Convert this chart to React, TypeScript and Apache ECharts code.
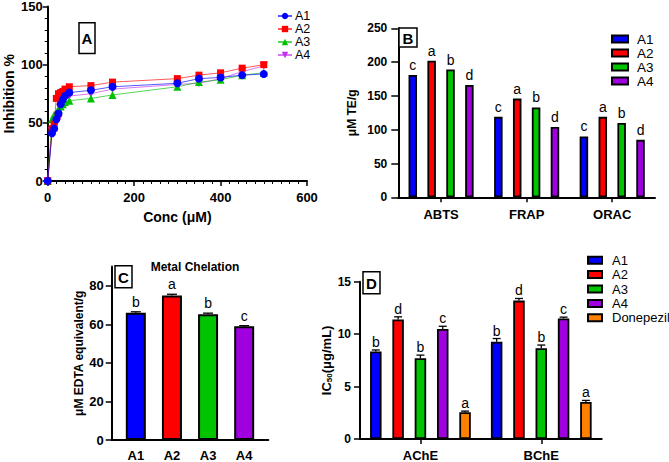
import React, { useEffect, useRef } from 'react';
import * as echarts from 'echarts';

// ---------- Panel A: inhibition vs concentration ----------
const concA = [0, 10, 15, 20, 25, 30, 35, 40, 50, 100, 150, 300, 350, 400, 450, 500];
const inhA1 = [0, 41, 45, 53, 58, 66, 70, 73, 76, 78, 81, 84, 88, 89, 91, 92];
const inhA2 = [0, 45, 49, 71, 75, 76, 77, 79, 81, 82, 85, 88, 91, 93, 97, 100];
const inhA3 = [0, 53, 57, 58, 62, 64, 66, 68, 69, 71, 74, 81, 85, 87, 91, 93];
const inhA4 = [0, 43, 47, 50, 53, 63, 68, 71, 73, 75, 79, 83, 84, 88, 94, 99];
const namesA = ['A1', 'A2', 'A3', 'A4'];

// ---------- Panel B: antioxidant assays ----------
const bCategories = ['ABTS', 'FRAP', 'ORAC'];
const bA1 = [181, 119, 90];
const bA2 = [202, 146, 119];
const bA3 = [189, 133, 110];
const bA4 = [166, 104, 85];
const bLetters = ['c', 'a', 'b', 'd'];

// ---------- Panel C: metal chelation ----------
const cCategories = ['A1', 'A2', 'A3', 'A4'];
const cValues = [66, 75, 65.2, 59];
const cErrors = [0.5, 0.6, 0.6, 0.3];
const cLetters = ['b', 'a', 'b', 'c'];

// ---------- Panel D: IC50 ----------
const dCategories = ['AChE', 'BChE'];
const dNames = ['A1', 'A2', 'A3', 'A4', 'Donepezil'];
const dA1 = [8.34, 9.28];
const dA2 = [11.4, 13.2];
const dA3 = [7.7, 8.66];
const dA4 = [10.5, 11.5];
const dDon = [2.56, 3.53];
const dErrA1 = [0.15, 0.3];
const dErrA2 = [0.25, 0.2];
const dErrA3 = [0.3, 0.3];
const dErrA4 = [0.25, 0.12];
const dErrDon = [0.1, 0.15];
const dLetters = [['b', 'b'], ['d', 'd'], ['b', 'b'], ['c', 'c'], ['a', 'a']];

const FONT = '"Liberation Sans", Arial, Helvetica, sans-serif';
const BLUE = '#0000ff';
const RED = '#ff0000';
const GREEN = '#00c400';
const PURPLE = '#a000e0';
const ORANGE = '#ff8000';
const barColors = [BLUE, RED, GREEN, PURPLE, ORANGE];
const lineColors = ['#0000ff', '#ff0000', '#00c000', '#c030f0'];

const D_STEP = 11.5 * 1.94;

function axis(opts: any) {
  const {
    labelSize = 12, margin = 8, tickLen = 5, tickShow = true, lineWidth = 2, extraLabel = {}, extraTick = {}, ...rest
  } = opts;
  return {
    splitLine: { show: false },
    axisLine: { show: true, onZero: false, lineStyle: { color: '#000', width: lineWidth } },
    axisTick: { show: tickShow, inside: false, length: tickLen, lineStyle: { color: '#000', width: 1.5 }, ...extraTick },
    axisLabel: { color: '#000', fontSize: labelSize, fontWeight: 'bold', margin, fontFamily: FONT, ...extraLabel },
    nameTextStyle: { color: '#000', fontSize: 12, fontWeight: 'bold', fontFamily: FONT },
    ...rest,
  };
}

function boxLabel(letter: string, x: number, y: number, w: number, h: number) {
  return [
    { type: 'rect', shape: { x, y, width: w, height: h }, style: { fill: '#fff', stroke: '#000', lineWidth: 1.5 }, z: 20 },
    {
      type: 'text', x: x + w / 2, y: y + h / 2 + 0.5, z: 21,
      style: { text: letter, textAlign: 'center', textVerticalAlign: 'middle', fontSize: 15, fontWeight: 'bold', fontFamily: FONT, fill: '#000' },
    },
  ];
}

export default function App() {
  const ref = useRef<HTMLDivElement>(null);
  useEffect(() => {
    if (!ref.current) return;
    const chart = echarts.init(ref.current, undefined, { renderer: 'svg' });

    const inhA = [inhA1, inhA2, inhA3, inhA4];
    const symbolsA = ['circle', 'rect', 'triangle', 'triangle'];
    const symbolSizesA = [8, 7, 8, 8];
    const rotA = [0, 0, 0, 180];
    const bSeries = [bA1, bA2, bA3, bA4];
    const dSeries = [dA1, dA2, dA3, dA4, dDon];
    const dErrs = [dErrA1, dErrA2, dErrA3, dErrA4, dErrDon];

    const option: any = {
      animation: false,
      backgroundColor: '#fff',
      textStyle: { fontFamily: FONT, color: '#000' },
      grid: [
        { left: 47.7, top: 5, width: 259.3, height: 176 },
        { left: 398.3, top: 28.3, width: 256.7, height: 169 },
        { left: 111.7, top: 266.5, width: 156.6, height: 175.8 },
        { left: 360, top: 281.7, width: 241.7, height: 160 },
      ],
      xAxis: [
        axis({
          type: 'value', gridIndex: 0, min: 0, max: 600, interval: 200,
          labelSize: 13, margin: 10, tickLen: 5,
          minorTick: { show: true, splitNumber: 10, length: 3, lineStyle: { color: '#000', width: 1 } },
          minorSplitLine: { show: false },
          name: 'Conc (μM)', nameLocation: 'middle', nameGap: 29,
          nameTextStyle: { color: '#000', fontSize: 14, fontWeight: 'bold', fontFamily: FONT },
        }),
        axis({
          type: 'category', gridIndex: 1, data: bCategories, boundaryGap: true,
          labelSize: 13, margin: 11, tickLen: 5, extraTick: { alignWithLabel: true },
        }),
        axis({
          type: 'value', gridIndex: 2, min: -0.668, max: 3.668,
          labelSize: 13, margin: 9, tickShow: false,
          extraLabel: { customValues: [0, 1, 2, 3], formatter: (v: number) => cCategories[Math.round(v)] },
        }),
        axis({
          type: 'category', gridIndex: 3, data: dCategories, boundaryGap: true,
          labelSize: 13, margin: 10, tickLen: 5, extraTick: { alignWithLabel: true },
        }),
      ],
      yAxis: [
        axis({
          type: 'value', gridIndex: 0, min: 0, max: 150, interval: 50,
          labelSize: 13, margin: 5, tickLen: 5,
          minorTick: { show: true, splitNumber: 5, length: 3, lineStyle: { color: '#000', width: 1 } },
          minorSplitLine: { show: false },
          name: 'Inhibition %', nameLocation: 'middle', nameGap: 32,
          nameTextStyle: { color: '#000', fontSize: 14, fontWeight: 'bold', fontFamily: FONT },
        }),
        axis({
          type: 'value', gridIndex: 1, min: 0, max: 250, interval: 50,
          labelSize: 12, margin: 11, tickLen: 7,
          name: 'μM TE/g', nameLocation: 'middle', nameGap: 40,
          nameTextStyle: { color: '#000', fontSize: 12, fontWeight: 'bold', fontFamily: FONT },
        }),
        axis({
          type: 'value', gridIndex: 2, min: 0, max: 90, interval: 20,
          labelSize: 13, margin: 8, tickLen: 6,
          extraLabel: { customValues: [0, 20, 40, 60, 80] },
          extraTick: { customValues: [0, 20, 40, 60, 80] },
          name: 'μM EDTA equivalent/g', nameLocation: 'middle', nameGap: 24,
          nameTextStyle: { color: '#000', fontSize: 12, fontWeight: 'bold', fontFamily: FONT },
        }),
        axis({
          type: 'value', gridIndex: 3, min: 0, max: 15, interval: 5,
          labelSize: 12, margin: 9, tickLen: 6,
          name: '{a|IC}{b|50}{a|(μg/mL)}', nameLocation: 'middle', nameGap: 27,
          nameTextStyle: {
            color: '#000', fontFamily: FONT,
            rich: {
              a: { fontSize: 13, fontWeight: 'bold', color: '#000', fontFamily: FONT },
              b: { fontSize: 8, fontWeight: 'bold', color: '#000', fontFamily: FONT, verticalAlign: 'bottom', padding: [5, 0, 0, 0] },
            },
          },
        }),
      ],
      legend: [
        {
          data: namesA, orient: 'vertical', left: 277, top: 9.5, padding: 0, itemGap: 0,
          itemWidth: 14, itemHeight: 8, selectedMode: false,
          textStyle: { fontSize: 12.5, lineHeight: 13, color: '#000', fontFamily: FONT, padding: [0, 0, 0, -2] },
        },
        {
          data: namesA.map((n) => 'B:' + n), orient: 'vertical', left: 611, top: 32, padding: 0, itemGap: 0,
          itemWidth: 16, itemHeight: 7, icon: 'rect', selectedMode: false,
          formatter: (n: string) => n.replace(/^[BD]:/, ''),
          textStyle: { fontSize: 13.5, lineHeight: 13.7, color: '#000', fontFamily: FONT, padding: [0, 0, 0, 4] },
        },
        {
          data: dNames.map((n) => 'D:' + n), orient: 'vertical', left: 587, top: 253, padding: 0, itemGap: 0,
          itemWidth: 14, itemHeight: 7, icon: 'rect', selectedMode: false,
          formatter: (n: string) => n.replace(/^[BD]:/, ''),
          textStyle: { fontSize: 13, lineHeight: 14.4, color: '#000', fontFamily: FONT, padding: [0, 0, 0, 5] },
        },
      ],
      graphic: [
        ...boxLabel('A', 79, 22.7, 16, 30.7),
        ...boxLabel('B', 399, 28, 18, 19),
        ...boxLabel('C', 115, 265.7, 17, 22),
        ...boxLabel('D', 363, 271.7, 17, 22),
        {
          type: 'text', x: 195, y: 266.7, z: 21,
          style: { text: 'Metal Chelation', textAlign: 'center', textVerticalAlign: 'middle', fontSize: 12, fontWeight: 'bold', fontFamily: FONT, fill: '#000' },
        },
      ],
      series: [
        ...inhA.map((vals, i) => ({
          type: 'line', name: namesA[i], xAxisIndex: 0, yAxisIndex: 0,
          data: concA.map((c, k) => [c, vals[k]]),
          symbol: symbolsA[i], symbolSize: symbolSizesA[i], symbolRotate: rotA[i],
          itemStyle: { color: lineColors[i] },
          lineStyle: { color: lineColors[i], width: 1, opacity: 0.65 },
          clip: false, z: 10 - i,
        })),
        ...bSeries.map((vals, i) => ({
          type: 'bar', name: 'B:' + namesA[i], xAxisIndex: 1, yAxisIndex: 1,
          data: vals, barWidth: 8.5, barGap: '122%',
          itemStyle: { color: barColors[i], borderColor: '#000', borderWidth: 1.8 },
          label: {
            show: true, position: 'top', distance: 3, formatter: () => bLetters[i],
            fontSize: 14, color: '#000', fontFamily: FONT,
          },
        })),
        {
          type: 'bar', name: 'C', xAxisIndex: 2, yAxisIndex: 2,
          data: cValues.map((v, i) => [i, v]), barWidth: 20,
          itemStyle: { color: (p: any) => barColors[p.dataIndex], borderColor: '#000', borderWidth: 2 },
        },
        {
          type: 'custom', xAxisIndex: 2, yAxisIndex: 2, z: 5,
          encode: { x: 0, y: 1 },
          data: cValues.map((v, i) => [i, v, cErrors[i]]),
          renderItem: (params: any, api: any) => {
            const i = api.value(0), v = api.value(1), e = api.value(2);
            const p0 = api.coord([i, v]);
            const p1 = api.coord([i, v + e]);
            return {
              type: 'group',
              children: [
                { type: 'line', shape: { x1: p0[0], y1: p0[1], x2: p0[0], y2: p1[1] }, style: { stroke: '#000', lineWidth: 1.3 } },
                { type: 'line', shape: { x1: p0[0] - 5, y1: p1[1], x2: p0[0] + 5, y2: p1[1] }, style: { stroke: '#000', lineWidth: 1.3 } },
                {
                  type: 'text', x: p0[0], y: p1[1] - 3,
                  style: { text: cLetters[params.dataIndex], textAlign: 'center', textVerticalAlign: 'bottom', fontSize: 14, fontFamily: FONT, fill: '#000' },
                },
              ],
            };
          },
        },
        ...dSeries.map((vals, i) => ({
          type: 'bar', name: 'D:' + dNames[i], xAxisIndex: 3, yAxisIndex: 3,
          data: vals, barWidth: 11.5, barGap: '94%',
          itemStyle: { color: barColors[i], borderColor: '#000', borderWidth: 1.8 },
        })),
        {
          type: 'custom', xAxisIndex: 3, yAxisIndex: 3, z: 5,
          encode: { x: 0, y: 2 },
          data: dSeries.flatMap((vals, s) => vals.map((v, c) => [c, s, v, dErrs[s][c]])),
          renderItem: (params: any, api: any) => {
            const c = api.value(0), s = api.value(1), v = api.value(2), e = api.value(3);
            const p0 = api.coord([c, v]);
            const p1 = api.coord([c, v + e]);
            const x = p0[0] + (s - 2) * D_STEP;
            return {
              type: 'group',
              children: [
                { type: 'line', shape: { x1: x, y1: p0[1], x2: x, y2: p1[1] }, style: { stroke: '#000', lineWidth: 1.3 } },
                { type: 'line', shape: { x1: x - 4, y1: p1[1], x2: x + 4, y2: p1[1] }, style: { stroke: '#000', lineWidth: 1.3 } },
                {
                  type: 'text', x, y: p1[1] - 1,
                  style: { text: dLetters[s][c], textAlign: 'center', textVerticalAlign: 'bottom', fontSize: 14, fontFamily: FONT, fill: '#000' },
                },
              ],
            };
          },
        },
      ],
    };
    chart.setOption(option);
    return () => chart.dispose();
  }, []);
  return <div ref={ref} style={{ position: 'fixed', left: 0, top: 0, width: 669, height: 462 }} />;
}
